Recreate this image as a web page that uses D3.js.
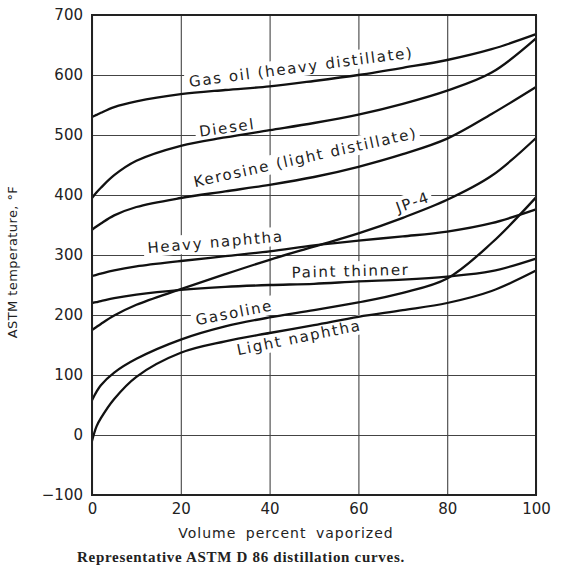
<!DOCTYPE html>
<html>
<head>
<meta charset="utf-8">
<script src="https://cdn.jsdelivr.net/npm/d3@7"></script>
<style>
  body { margin: 0; background: #fff; }
  svg text { font-family: "DejaVu Sans", sans-serif; fill: #222; }
</style>
</head>
<body>
<div id="drawarea"></div>
<script>
// volume percent vaporized (shared x positions)
const volume = [0, 1, 2, 5, 10, 20, 30, 40, 50, 60, 70, 80, 90, 100];

// ASTM temperature, F, per product
const gasOil       = [530, 533.5, 537, 546.5, 556, 568, 575, 581, 590, 600, 612, 625, 643, 668];
const diesel       = [395, 404, 412, 433, 457, 482, 496, 508, 520, 534, 552, 574, 604, 661];
const kerosine     = [342, 347.5, 352.5, 366, 380, 395, 406, 417, 430, 447, 468, 494, 535, 580];
const jp4          = [175, 180, 185, 199, 217, 243, 268, 292, 314, 336, 362, 392, 432, 495];
const heavyNaphtha = [265, 267, 269, 274.5, 281, 290, 298, 306, 316, 324, 331, 339, 353, 376];
const paintThinner = [220, 221.5, 223, 228, 234, 242, 247, 250, 252, 256, 259, 264, 273, 294];
const gasoline     = [58, 72, 83, 104, 127, 159, 181, 196, 208, 221, 237, 261, 320, 396];
const lightNaphtha = [-10, 14, 28, 60, 97, 137, 156, 170, 183, 197, 208, 220, 240, 274];

const series = [gasOil, diesel, kerosine, jp4, heavyNaphtha, paintThinner, gasoline, lightNaphtha];

// curve labels: text, anchor point in data units, rotation
const labelText  = ["Gas oil (heavy distillate)", "Diesel", "Kerosine (light distillate)", "JP-4",
                    "Heavy naphtha", "Paint thinner", "Gasoline", "Light naphtha"];
const labelPos   = [[22, 580], [24.3, 497], [23.2, 413], [69, 370],
                    [12.6, 303], [45, 262], [23.6, 183], [32.9, 133]];
const labelAngle = [-7.5, -8, -12.5, -20, -5, -1.5, -11, -11.5];

const xTicks = [0, 20, 40, 60, 80, 100];
const yTicks = [-100, 0, 100, 200, 300, 400, 500, 600, 700];

const W = 569, H = 574;
const pLeft = 92, pRight = 536, pTop = 15, pBottom = 495;

let svg = d3.select("div#drawarea").append("svg")
    .attr("width", W)
    .attr("height", H);

let x = d3.scaleLinear().domain([0, 100]).range([pLeft, pRight]);
let y = d3.scaleLinear().domain([-100, 700]).range([pBottom, pTop]);

//Grid lines drawn by the axes with long inner ticks
svg.append("g")
    .attr("class", "grid")
    .attr("transform", "translate(0," + pBottom + ")")
    .call(d3.axisBottom(x).tickValues(xTicks).tickSize(-(pBottom - pTop)).tickFormat(""));
svg.append("g")
    .attr("class", "grid")
    .attr("transform", "translate(" + pLeft + ",0)")
    .call(d3.axisLeft(y).tickValues(yTicks).tickSize(-(pRight - pLeft)).tickFormat(""));
svg.selectAll("g.grid .domain").remove();
svg.selectAll("g.grid .tick line").attr("stroke", "#444").attr("stroke-width", 1.1);

//Tick labels
svg.append("g")
    .attr("transform", "translate(0," + pBottom + ")")
    .call(d3.axisBottom(x).tickValues(xTicks).tickSize(0).tickPadding(8))
    .call(g => g.select(".domain").remove())
    .selectAll("text")
    .attr("font-size", 15)
    .attr("font-family", "DejaVu Sans")
    .attr("fill", "#222");
svg.append("g")
    .attr("transform", "translate(" + pLeft + ",0)")
    .call(d3.axisLeft(y).tickValues(yTicks).tickSize(0).tickPadding(9)
        .tickFormat(d => d < 0 ? "\u2212" + Math.abs(d) : d))
    .call(g => g.select(".domain").remove())
    .selectAll("text")
    .attr("font-size", 15)
    .attr("font-family", "DejaVu Sans")
    .attr("fill", "#222");

//Curve labels, each on a white patch so the grid lines break around them
labelText.forEach((t, k) => {
    let g = svg.append("g")
        .attr("transform", "translate(" + x(labelPos[k][0]) + "," + y(labelPos[k][1]) + ") rotate(" + labelAngle[k] + ")");
    let txt = g.append("text")
        .attr("font-size", 15)
        .attr("letter-spacing", 1.7)
        .text(t);
    let bb = txt.node().getBBox();
    g.insert("rect", "text")
        .attr("x", bb.x - 4)
        .attr("y", bb.y - 1)
        .attr("width", bb.width + 6)
        .attr("height", bb.height + 1)
        .attr("fill", "#fff");
});

//Distillation curves
let line = d3.line()
    .x((d, k) => x(volume[k]))
    .y(d => y(d))
    .curve(d3.curveCatmullRom.alpha(0.5));

series.forEach(s => {
    svg.append("path")
        .attr("d", line(s))
        .attr("fill", "none")
        .attr("stroke", "#111")
        .attr("stroke-width", 2.3);
});

//Plot frame
svg.append("rect")
    .attr("x", pLeft)
    .attr("y", pTop)
    .attr("width", pRight - pLeft)
    .attr("height", pBottom - pTop)
    .attr("fill", "none")
    .attr("stroke", "#222")
    .attr("stroke-width", 2);

//Axis titles
svg.append("text")
    .attr("transform", "translate(17,262) rotate(-90)")
    .attr("text-anchor", "middle")
    .attr("font-size", 13)
    .attr("letter-spacing", 0.4)
    .text("ASTM temperature, \u00B0F");

svg.append("text")
    .attr("x", 286)
    .attr("y", 538)
    .attr("text-anchor", "middle")
    .attr("font-size", 14)
    .attr("letter-spacing", 1)
    .attr("word-spacing", 4)
    .text("Volume percent vaporized");

svg.append("text")
    .attr("x", 77)
    .attr("y", 562)
    .attr("font-size", 15)
    .attr("letter-spacing", 0.7)
    .attr("font-weight", "bold")
    .style("font-family", "'Liberation Serif', serif")
    .text("Representative ASTM D 86 distillation curves.");
</script>
</body>
</html>
